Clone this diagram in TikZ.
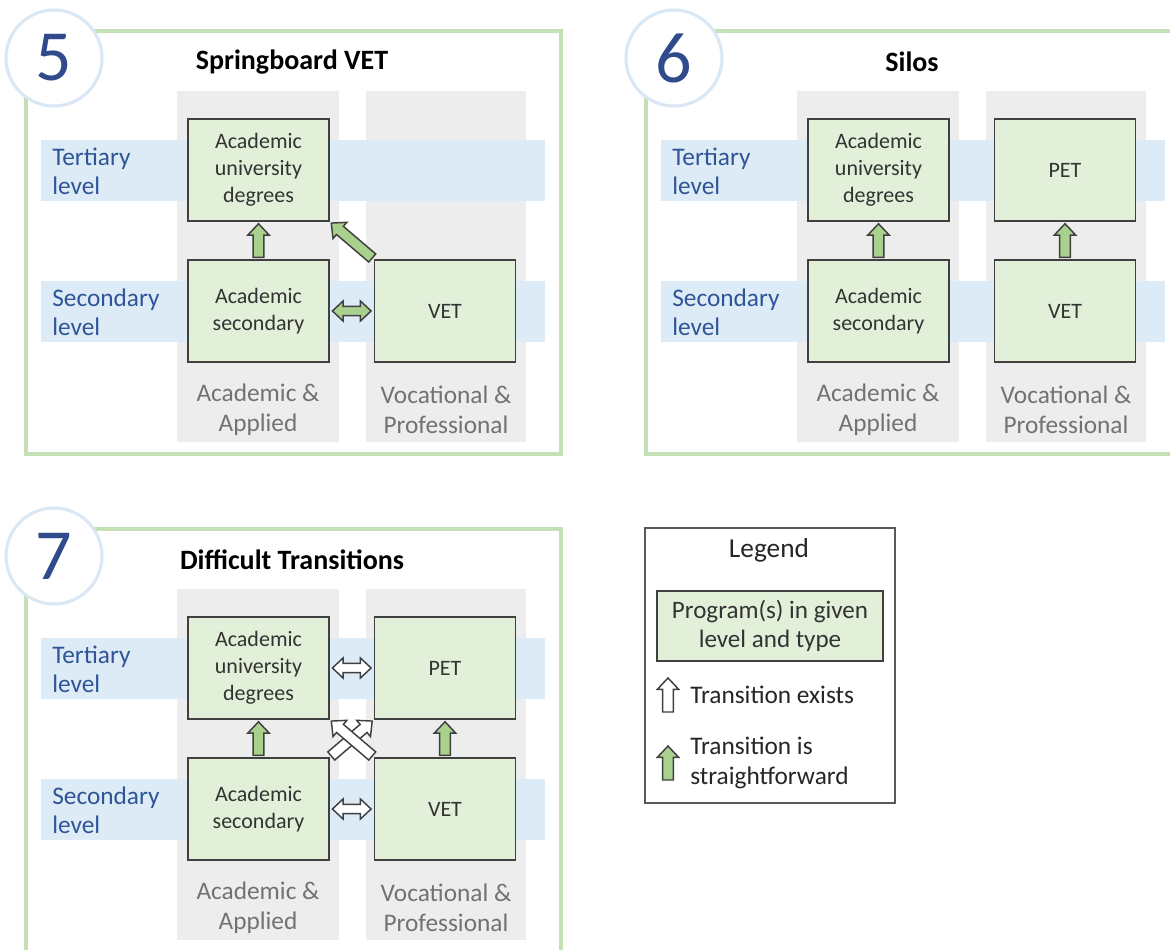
\documentclass[tikz,border=0pt]{standalone}
\usepackage{fontspec}
\setmainfont{Carlito}
\usepackage{tikz}
\usetikzlibrary{calc}
\definecolor{frameg}{HTML}{C5E0B4}
\definecolor{ringb}{HTML}{DAE7F5}
\definecolor{numblue}{HTML}{2F4B8C}
\definecolor{lblblue}{HTML}{2F5597}
\definecolor{colgray}{HTML}{EDEDED}
\definecolor{bandblue}{HTML}{DDEBF7}
\definecolor{boxg}{HTML}{E2F0D9}
\definecolor{arrowg}{HTML}{A9D18E}
\definecolor{edge}{HTML}{404040}
\definecolor{txtgray}{HTML}{767171}
\definecolor{legline}{HTML}{595959}
% point along the line from \p1, turned by \n1
\newcommand\arrowpt[2]{([shift={(\p1)},rotate=\n1]#1,#2)}

\begin{document}
\begin{tikzpicture}[x=0.75pt, y=-0.75pt,
    panelframe/.style={draw=frameg, line width=2.3pt},
    ring/.style={circle, draw=ringb, line width=2.3pt, fill=white, minimum size=72pt,
      inner sep=0pt, text=numblue, font=\fontsize{54}{54}\selectfont},
    ptitle/.style={font=\bfseries\fontsize{21}{24}\selectfont},
    prog/.style={draw=edge, line width=1.1pt, fill=boxg, minimum width=105.75pt,
      minimum height=76.5pt, align=center, text=black!80,
      font=\fontsize{16.5}{20.25}\selectfont},
    lvl/.style={anchor=west, inner sep=0pt, align=left, text=lblblue,
      font=\fontsize{19}{21.75}\selectfont},
    coltype/.style={inner sep=0pt, align=center, text=txtgray,
      font=\fontsize{19}{22.5}\selectfont},
    legtext/.style={inner sep=0pt, align=left, text=black!85,
      font=\fontsize{19}{22.5}\selectfont},
    blockarrow/.style={draw=edge, line width=1.1pt, line join=miter, fill=#1,
      to path={let \p1=(\tikztostart), \p2=(\tikztotarget),
        \n1={atan2(\y2-\y1,\x2-\x1)}, \n2={veclen(\x2-\x1,\y2-\y1)} in
        \arrowpt{1.5pt}{-4pt} -- \arrowpt{\n2-10pt}{-4pt}
        -- \arrowpt{\n2-10pt}{-8pt} -- \arrowpt{\n2-1.5pt}{0pt}
        -- \arrowpt{\n2-10pt}{8pt} -- \arrowpt{\n2-10pt}{4pt}
        -- \arrowpt{1.5pt}{4pt} -- cycle}},
    dblarrow/.style={draw=edge, line width=1.1pt, line join=miter, fill=#1,
      to path={let \p1=(\tikztostart), \p2=(\tikztotarget),
        \n1={atan2(\y2-\y1,\x2-\x1)}, \n2={veclen(\x2-\x1,\y2-\y1)} in
        \arrowpt{2pt}{0pt} -- \arrowpt{10pt}{-7.5pt} -- \arrowpt{10pt}{-3.4pt}
        -- \arrowpt{\n2-10pt}{-3.4pt} -- \arrowpt{\n2-10pt}{-7.5pt}
        -- \arrowpt{\n2-2pt}{0pt} -- \arrowpt{\n2-10pt}{7.5pt}
        -- \arrowpt{\n2-10pt}{3.4pt} -- \arrowpt{10pt}{3.4pt}
        -- \arrowpt{10pt}{7.5pt} -- cycle}}]

  \useasboundingbox (0,0) rectangle (1170,949);
  \clip (0,0) rectangle (1170,949);
  \fill[white] (0,0) rectangle (1170,949);

  % the three panels share one backdrop
  \foreach \dx/\dy/\num/\ttl in {0/0/5/Springboard VET, 620/0/6/Silos,
      0/498/7/Difficult Transitions}{
    \begin{scope}[shift={(\dx,\dy)}]
      \draw[panelframe] (26,31) rectangle (561,454);
      \node[ring] (ring\num) at (54,58) {\num};
      \node[ptitle] (title\num) at (292,62) {\ttl};
      \fill[colgray] (177,91) rectangle (339,442);
      \fill[colgray] (366,91) rectangle (526,442);
      \fill[bandblue] (41,140) rectangle (545,201);
      \fill[bandblue] (41,281) rectangle (545,342);
      \node[lvl] (ter\num) at (52,171) {Tertiary\\level};
      \node[lvl] (sec\num) at (52,312) {Secondary\\level};
      \node[coltype] (aca\num) at (258,410) {Academic \&\\Applied};
      \node[coltype] (voc\num) at (446,410) {Vocational \&\\Professional};
    \end{scope}
  }

  % 5: springboard
  \node[prog] (aud5) at (258.5,170) {Academic\\university\\degrees};
  \node[prog] (as5) at (258.5,311) {Academic\\secondary};
  \node[prog] (vet5) at (445,311) {VET};
  \draw[blockarrow=arrowg] (as5.north) to (aud5.south);
  \draw[blockarrow=arrowg] (vet5.north west) to (aud5.south east);
  \draw[dblarrow=arrowg] (as5.east) to (vet5.west);

  % 6: silos
  \begin{scope}[shift={(620,0)}]
    \node[prog] (aud6) at (258.5,170) {Academic\\university\\degrees};
    \node[prog] (pet6) at (445,170) {PET};
    \node[prog] (as6) at (258.5,311) {Academic\\secondary};
    \node[prog] (vet6) at (445,311) {VET};
  \end{scope}
  \draw[blockarrow=arrowg] (as6.north) to (aud6.south);
  \draw[blockarrow=arrowg] (vet6.north) to (pet6.south);

  % 7: difficult transitions
  \begin{scope}[shift={(0,498)}]
    \node[prog] (aud7) at (258.5,170) {Academic\\university\\degrees};
    \node[prog] (pet7) at (445,170) {PET};
    \node[prog] (as7) at (258.5,311) {Academic\\secondary};
    \node[prog] (vet7) at (445,311) {VET};
  \end{scope}
  \draw[blockarrow=arrowg] (as7.north) to (aud7.south);
  \draw[blockarrow=arrowg] (vet7.north) to (pet7.south);
  \draw[dblarrow=white] (aud7.east) to (pet7.west);
  \draw[dblarrow=white] (as7.east) to (vet7.west);
  \draw[blockarrow=white] (as7.north east) to (pet7.south west);
  \draw[blockarrow=white] (vet7.north west) to (aud7.south east);

  % legend
  \node[draw=legline, line width=.9pt, fill=white, minimum width=187.5pt,
    minimum height=206.25pt] (legend) at (770,665.5) {};
  \node[legtext, font=\fontsize{20.5}{24}\selectfont] (legtitle) at (769,550) {Legend};
  \node[prog, minimum width=169.5pt, minimum height=52.5pt,
    font=\fontsize{18.8}{21.75}\selectfont] (legprog) at (770,626)
    {Program(s) in given\\level and type};
  \coordinate (lw0) at (668,714);
  \coordinate (lw1) at (668,676);
  \draw[blockarrow=white] (lw0) to (lw1);
  \node[legtext, anchor=west] (legexist) at (690,695) {Transition exists};
  \coordinate (lg0) at (668,782);
  \coordinate (lg1) at (668,744);
  \draw[blockarrow=arrowg] (lg0) to (lg1);
  \node[legtext, anchor=west] (legstraight) at (690,763)
    {Transition is\\straightforward};
\end{tikzpicture}
\end{document}
